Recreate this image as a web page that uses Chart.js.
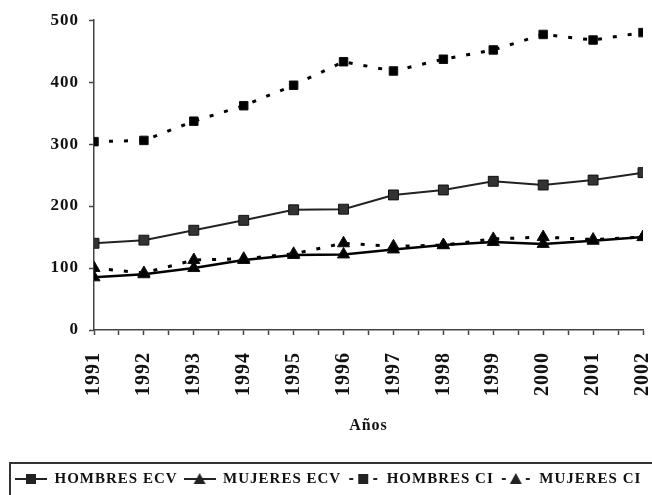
<!DOCTYPE html>
<html>
<head>
<meta charset="utf-8">
<script src="https://cdn.jsdelivr.net/npm/chart.js@4.4.1/dist/chart.umd.min.js"></script>
<style>
  html, body { margin: 0; padding: 0; background: #fff; }
</style>
</head>
<body>
<canvas id="c" width="652" height="495"></canvas>
<script>
// data
const years = [1991, 1992, 1993, 1994, 1995, 1996, 1997, 1998, 1999, 2000, 2001, 2002];
const hombresECV = [140, 145, 161, 177, 194, 195, 218, 226, 240, 234, 242, 254];
const mujeresECV = [85, 90, 100, 113, 121, 122, 130, 137, 142, 139, 144, 150];
const hombresCI = [304, 306, 337, 362, 395, 433, 418, 437, 452, 477, 468, 480];
const mujeresCI = [100, 92, 113, 115, 123, 140, 135, 137, 147, 150, 146, 150];
const yTicks = [0, 100, 200, 300, 400, 500];

const FONT = "'Liberation Serif', 'Times New Roman', serif";
const INK = '#111';
const PAD_BOTTOM = -1.5;

const pts = arr => years.map((y, i) => ({ x: y, y: arr[i] }));

// little legend pictures: line + marker
function sample(shape, dotted) {
  const cv = document.createElement('canvas');
  cv.width = 32; cv.height = 16;
  const g = cv.getContext('2d');
  g.strokeStyle = '#222'; g.fillStyle = '#222';
  g.lineWidth = 2;
  g.beginPath();
  if (dotted) {
    g.moveTo(2, 8); g.lineTo(6, 8);
    g.moveTo(26, 8); g.lineTo(30, 8);
  } else {
    g.moveTo(0, 8); g.lineTo(32, 8);
  }
  g.stroke();
  if (shape === 'rect') {
    g.fillRect(11, 3, 10, 10);
  } else {
    g.beginPath(); g.moveTo(16, 2); g.lineTo(22, 13); g.lineTo(10, 13); g.closePath(); g.fill();
  }
  return cv;
}

const spacing = {
  id: 'spacing',
  beforeLayout(chart) { chart.ctx.letterSpacing = '1px'; },
  beforeDraw(chart) { chart.ctx.letterSpacing = '1px'; }
};

const legendFrame = {
  id: 'legendFrame',
  afterDraw(chart) {
    const ctx = chart.ctx;
    ctx.save();
    ctx.strokeStyle = '#333';
    ctx.lineWidth = 2;
    ctx.strokeRect(10, 463, 700, 60);
    ctx.restore();
  }
};

const common = { tension: 0, pointBorderColor: INK, pointBorderWidth: 1 };

const datasets = [
  { label: 'HOMBRES ECV', data: pts(hombresECV), borderColor: '#222', borderWidth: 2,
    pointStyle: 'rect', pointRadius: 7, pointBackgroundColor: '#333', legendShape: 'rect', dotted: false },
  { label: 'MUJERES ECV', data: pts(mujeresECV), borderColor: '#000', borderWidth: 2.5,
    pointStyle: 'triangle', pointRadius: 7, pointBackgroundColor: '#000', legendShape: 'triangle', dotted: false },
  { label: 'HOMBRES CI', data: pts(hombresCI), borderColor: '#000', borderWidth: 3, borderDash: [4, 11],
    pointStyle: 'rect', pointRadius: 6, pointBackgroundColor: '#000', legendShape: 'rect', dotted: true },
  { label: 'MUJERES CI', data: pts(mujeresCI), borderColor: '#000', borderWidth: 3, borderDash: [4, 11],
    pointStyle: 'triangle', pointRadius: 7, pointBackgroundColor: '#000', legendShape: 'triangle', dotted: true }
].map(d => Object.assign({}, common, d));

const samples = datasets.map(d => sample(d.legendShape, d.dotted));

new Chart(document.getElementById('c'), {
  type: 'line',
  data: { datasets },
  plugins: [spacing, legendFrame],
  options: {
    responsive: false,
    animation: false,
    devicePixelRatio: 1,
    layout: { padding: { left: 9, right: 0, top: 14, bottom: PAD_BOTTOM } },
    plugins: {
      tooltip: { enabled: false },
      legend: {
        position: 'bottom',
        align: 'start',
        labels: {
          usePointStyle: true,
          pointStyleWidth: 32,
          padding: 6,
          color: INK,
          font: { family: FONT, size: 15, weight: 'bold' },
          generateLabels: chart => chart.data.datasets.map((ds, i) => ({
            text: ds.label, pointStyle: samples[i], datasetIndex: i,
            fontColor: INK, hidden: false, lineWidth: 0,
            strokeStyle: 'transparent', fillStyle: 'transparent'
          }))
        }
      }
    },
    scales: {
      x: {
        type: 'linear',
        min: years[0],
        max: years[years.length - 1],
        afterFit: s => {
          s.height = s.chart.height - PAD_BOTTOM - s.chart.legend.height - 330;
          s.paddingLeft = 0;
          s.paddingRight = 9;
        },
        grid: { drawOnChartArea: false, drawTicks: true, tickLength: 5, color: '#444', tickWidth: 1.5 },
        border: { color: '#444', width: 1.5 },
        ticks: {
          stepSize: 0.5,
          autoSkip: false,
          minRotation: 90,
          maxRotation: 90,
          padding: 17,
          color: INK,
          font: { family: FONT, size: 20, weight: 'bold' },
          callback: v => Number.isInteger(v) ? String(v) : ''
        },
        title: {
          display: true,
          text: 'Años',
          color: INK,
          font: { family: FONT, size: 16, weight: 'bold' },
          padding: { top: 10, bottom: 30 }
        }
      },
      y: {
        min: yTicks[0],
        max: yTicks[yTicks.length - 1],
        afterFit: s => { s.width = 85; },
        grid: { drawOnChartArea: false, drawTicks: true, tickLength: 5, color: '#444', tickWidth: 1.5 },
        border: { color: '#444', width: 1.5 },
        ticks: {
          stepSize: 100,
          padding: 10,
          color: INK,
          font: { family: FONT, size: 17, weight: 'bold' }
        }
      }
    }
  }
});
</script>
</body>
</html>
